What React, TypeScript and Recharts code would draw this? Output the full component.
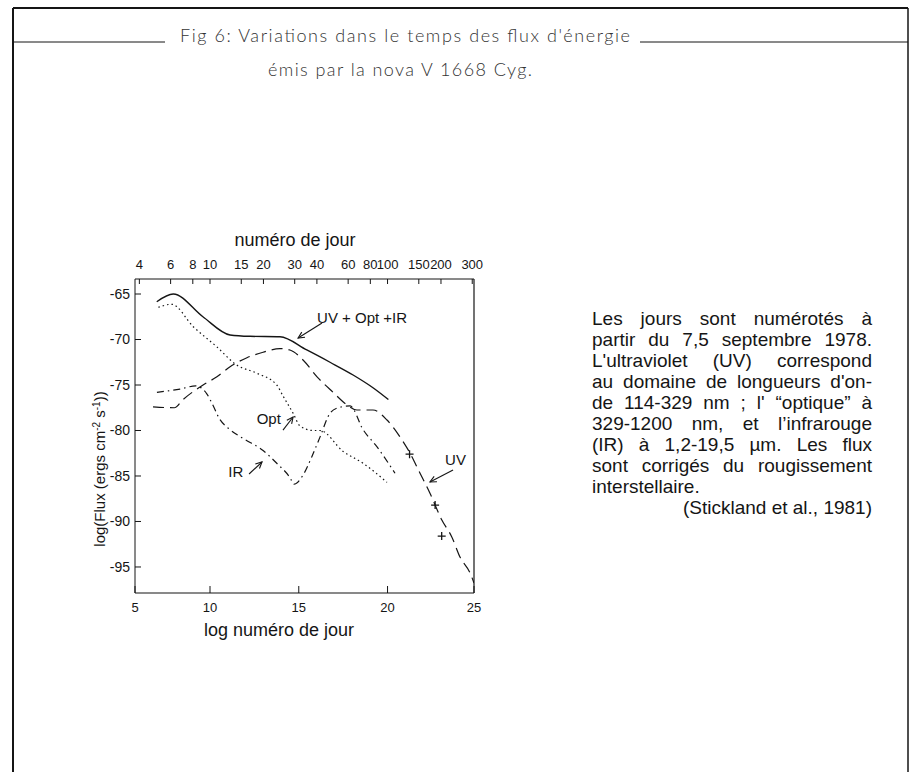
import React from "react";
import {
  ComposedChart,
  Line,
  Scatter,
  XAxis,
  YAxis,
  ReferenceLine,
  ReferenceDot,
  Label,
} from "recharts";

const FONT = '"Liberation Sans", Arial, Helvetica, sans-serif';
const INK = "#151515";

// x: log numéro de jour (10·log10 jour), y: log flux
const totalFlux = [
  { x: 7.0, y: -65.85 }, { x: 7.93, y: -65.0 }, { x: 9.6, y: -67.5 },
  { x: 11.13, y: -69.5 }, { x: 12.25, y: -69.65 }, { x: 13.94, y: -69.7 },
  { x: 15.45, y: -71.15 }, { x: 16.76, y: -72.5 }, { x: 18.06, y: -73.9 },
  { x: 19.18, y: -75.3 }, { x: 20.05, y: -76.6 },
];

const uvFlux = [
  { x: 6.79, y: -77.4 }, { x: 7.99, y: -77.5 }, { x: 8.48, y: -76.6 },
  { x: 9.61, y: -75.0 }, { x: 10.39, y: -74.1 }, { x: 11.13, y: -73.0 },
  { x: 12.08, y: -72.0 }, { x: 12.99, y: -71.4 }, { x: 13.94, y: -71.0 },
  { x: 14.5, y: -71.15 }, { x: 15.24, y: -72.25 }, { x: 16.03, y: -74.1 },
  { x: 16.93, y: -75.8 }, { x: 17.72, y: -77.2 }, { x: 18.28, y: -77.75 },
  { x: 19.18, y: -77.75 }, { x: 19.97, y: -78.85 }, { x: 20.7, y: -80.7 },
  { x: 21.27, y: -82.5 }, { x: 21.83, y: -84.7 }, { x: 22.39, y: -86.9 },
  { x: 23.05, y: -89.8 }, { x: 23.62, y: -91.7 }, { x: 24.08, y: -93.9 },
  { x: 24.65, y: -95.66 }, { x: 24.87, y: -96.76 },
];

const optFlux = [
  { x: 7.09, y: -66.46 }, { x: 7.84, y: -66.13 }, { x: 9.06, y: -68.6 },
  { x: 10.38, y: -70.8 }, { x: 11.5, y: -72.8 }, { x: 12.63, y: -73.7 },
  { x: 13.76, y: -75.0 }, { x: 14.11, y: -76.2 }, { x: 14.68, y: -78.1 },
  { x: 15.07, y: -79.5 }, { x: 15.8, y: -80.0 }, { x: 16.2, y: -80.0 },
  { x: 17.5, y: -82.3 }, { x: 18.62, y: -83.6 }, { x: 19.97, y: -85.7 },
];

const irFlux = [
  { x: 7.01, y: -75.8 }, { x: 8.31, y: -75.45 }, { x: 9.2, y: -75.1 },
  { x: 9.83, y: -76.0 }, { x: 10.11, y: -77.0 }, { x: 10.56, y: -78.8 },
  { x: 11.0, y: -79.7 }, { x: 11.8, y: -80.8 }, { x: 12.99, y: -82.2 },
  { x: 13.76, y: -83.6 }, { x: 14.51, y: -85.2 }, { x: 14.73, y: -85.9 },
  { x: 15.24, y: -84.9 }, { x: 15.73, y: -82.9 }, { x: 16.2, y: -80.7 },
  { x: 16.76, y: -78.1 }, { x: 17.21, y: -77.5 }, { x: 17.89, y: -77.3 },
  { x: 18.62, y: -79.9 }, { x: 19.41, y: -81.8 }, { x: 20.42, y: -84.7 },
];

const uvCrosses = [
  { x: 21.24, y: -82.6 }, { x: 22.68, y: -88.2 }, { x: 23.05, y: -91.6 },
];

const xDomain = [5.775, 24.87];
const yDomain = [-97.86, -63.35];
const yTicks = [-65, -70, -75, -80, -85, -90, -95];
const bottomTicks = [5.775, 10, 15, 20, 24.87];
const bottomTickLabels = ["5", "10", "15", "20", "25"];
const topTickDays = [4, 6, 8, 10, 15, 20, 30, 40, 60, 80, 100, 150, 200, 300];
const topTicks = topTickDays.map((d) => 10 * Math.log10(d));

const annotations = [
  { text: "UV + Opt +IR", tx: 16.03, ty: -67.64, from: [16.31, -68.19], to: [14.96, -69.84] },
  { text: "Opt", tx: 12.63, ty: -78.74, from: [14.11, -79.95], to: [14.68, -78.52] },
  { text: "IR", tx: 11.03, ty: -84.53, from: [12.2, -84.78], to: [12.93, -83.46] },
  { text: "UV", tx: 23.24, ty: -83.24, from: [23.69, -84.34], to: [22.39, -85.66] },
];

const noteLines = [
  "Les jours sont numérotés à",
  "partir du 7,5 septembre 1978.",
  "L'ultraviolet (UV) correspond",
  "au domaine de longueurs d'on-",
  "de 114-329 nm ; l' “optique” à",
  "329-1200 nm, et l’infrarouge",
  "(IR) à 1,2-19,5 µm. Les flux",
  "sont corrigés du rougissement",
];

const Arrow = (p: any) => {
  const { x1, y1, x2, y2 } = p;
  const a = Math.atan2(y2 - y1, x2 - x1);
  const h = 7;
  const w = 0.45;
  const ax = x2 - h * Math.cos(a - w);
  const ay = y2 - h * Math.sin(a - w);
  const bx = x2 - h * Math.cos(a + w);
  const by = y2 - h * Math.sin(a + w);
  return (
    <g stroke={INK} strokeWidth={1.1} fill="none">
      <line x1={x1} y1={y1} x2={x2} y2={y2} />
      <path d={`M${ax},${ay} L${x2},${y2} L${bx},${by}`} />
    </g>
  );
};

const PlusShape = (p: any) => (
  <path
    d={`M${p.cx - 4},${p.cy} h8 M${p.cx},${p.cy - 4} v8`}
    stroke={INK}
    strokeWidth={1.3}
  />
);

const noteText = (text: string) => (p: any) => (
  <text x={p.cx} y={p.cy} dy="0.35em" fontSize={15} fontFamily={FONT} fill={INK}>
    {text}
  </text>
);

const TopTitle = () => (
  <text x={295} y={246} textAnchor="middle" fontSize={18} fontFamily={FONT} fill={INK}>
    numéro de jour
  </text>
);

const BottomTitle = () => (
  <text x={279} y={636} textAnchor="middle" fontSize={18} fontFamily={FONT} fill={INK}>
    log numéro de jour
  </text>
);

const YTitle = () => (
  <text
    transform="translate(100,469) rotate(-90)"
    textAnchor="middle"
    dy="0.35em"
    fontSize={15}
    fontFamily={FONT}
    fill={INK}
  >
    log(Flux (ergs cm<tspan dy={-5} fontSize={10}>-2</tspan>
    <tspan dy={5}> s</tspan>
    <tspan dy={-5} fontSize={10}>-1</tspan>
    <tspan dy={5}>))</tspan>
  </text>
);

const tickStyle = { fontSize: 13, fontFamily: FONT, fill: INK };
const titleFont = 'Lato, "Open Sans", sans-serif';

export default function App() {
  return (
    <div style={{ position: "absolute", left: 0, top: 0, width: 917, height: 772, background: "#fff" }}>
      <ComposedChart
        width={917}
        height={772}
        margin={{ top: 249, right: 442, bottom: 149, left: 85 }}
      >
        <XAxis
          xAxisId="bottom"
          type="number"
          dataKey="x"
          domain={xDomain}
          ticks={bottomTicks}
          interval={0}
          allowDataOverflow
          height={30}
          tickSize={-7}
          tickMargin={17}
          tickFormatter={(v: number, i: number) => bottomTickLabels[i]}
          tick={tickStyle}
          axisLine={{ stroke: INK, strokeWidth: 1.2 }}
          tickLine={{ stroke: INK }}
        >
          <Label content={BottomTitle} />
        </XAxis>
        <XAxis
          xAxisId="top"
          orientation="top"
          type="number"
          dataKey="x"
          domain={xDomain}
          ticks={topTicks}
          interval={0}
          allowDataOverflow
          height={30}
          tickSize={-5}
          tickMargin={15}
          tickFormatter={(v: number, i: number) => String(topTickDays[i])}
          tick={tickStyle}
          axisLine={{ stroke: INK, strokeWidth: 1 }}
          tickLine={{ stroke: INK }}
        >
          <Label content={TopTitle} />
        </XAxis>
        <YAxis
          yAxisId="left"
          type="number"
          domain={yDomain}
          ticks={yTicks}
          interval={0}
          allowDataOverflow
          width={50}
          tickSize={-6}
          tickMargin={11}
          tick={{ ...tickStyle, fontSize: 14 }}
          axisLine={{ stroke: INK, strokeWidth: 1 }}
          tickLine={{ stroke: INK }}
        >
          <Label content={YTitle} />
        </YAxis>
        <YAxis
          yAxisId="right"
          orientation="right"
          type="number"
          domain={yDomain}
          allowDataOverflow
          width={1}
          tick={false}
          tickLine={false}
          axisLine={{ stroke: INK, strokeWidth: 1.2 }}
        />

        <Line
          xAxisId="bottom"
          yAxisId="left"
          data={totalFlux}
          dataKey="y"
          type="monotone"
          stroke={INK}
          strokeWidth={1.4}
          dot={false}
          isAnimationActive={false}
        />
        <Line
          xAxisId="bottom"
          yAxisId="left"
          data={uvFlux}
          dataKey="y"
          type="monotone"
          stroke={INK}
          strokeWidth={1.2}
          strokeDasharray="11 6"
          dot={false}
          isAnimationActive={false}
        />
        <Line
          xAxisId="bottom"
          yAxisId="left"
          data={optFlux}
          dataKey="y"
          type="monotone"
          stroke={INK}
          strokeWidth={1.2}
          strokeDasharray="1.5 3"
          dot={false}
          isAnimationActive={false}
        />
        <Line
          xAxisId="bottom"
          yAxisId="left"
          data={irFlux}
          dataKey="y"
          type="monotone"
          stroke={INK}
          strokeWidth={1.2}
          strokeDasharray="7 4 1.5 4"
          dot={false}
          isAnimationActive={false}
        />
        <Scatter
          xAxisId="bottom"
          yAxisId="left"
          data={uvCrosses}
          dataKey="y"
          shape={PlusShape}
          isAnimationActive={false}
        />

        {annotations.map((a) => (
          <ReferenceLine
            key={"arrow-" + a.text}
            xAxisId="bottom"
            yAxisId="left"
            segment={[
              { x: a.from[0], y: a.from[1] },
              { x: a.to[0], y: a.to[1] },
            ]}
            shape={Arrow}
          />
        ))}
        {annotations.map((a) => (
          <ReferenceDot
            key={"text-" + a.text}
            xAxisId="bottom"
            yAxisId="left"
            x={a.tx}
            y={a.ty}
            r={0}
            shape={noteText(a.text)}
          />
        ))}
      </ComposedChart>

      <svg
        width={917}
        height={772}
        style={{ position: "absolute", left: 0, top: 0, pointerEvents: "none" }}
      >
        <g stroke={INK} fill="none">
          <line x1={13} y1={8} x2={908} y2={8} strokeWidth={2} />
          <line x1={13} y1={8} x2={13} y2={772} strokeWidth={2} />
          <line x1={908} y1={8} x2={908} y2={772} strokeWidth={1.5} />
          <line x1={13} y1={42} x2={165} y2={42} strokeWidth={1} />
          <line x1={640} y1={42} x2={908} y2={42} strokeWidth={1} />
        </g>
        <text
          x={180}
          y={42}
          textLength={450}
          lengthAdjust="spacing"
          fontSize={18}
          fontWeight={300}
          fontFamily={titleFont}
          fill="#333"
        >
          Fig 6: Variations dans le temps des flux d'énergie
        </text>
        <text
          x={268}
          y={76}
          textLength={264}
          lengthAdjust="spacing"
          fontSize={18}
          fontWeight={300}
          fontFamily={titleFont}
          fill="#333"
        >
          émis par la nova V 1668 Cyg.
        </text>
      </svg>

      <div
        style={{
          position: "absolute",
          left: 592,
          top: 308,
          width: 280,
          fontFamily: FONT,
          fontSize: 19,
          lineHeight: "21px",
          color: INK,
        }}
      >
        {noteLines.map((l) => (
          <div key={l} style={{ textAlign: "justify", textAlignLast: "justify" }}>
            {l}
          </div>
        ))}
        <div>interstellaire.</div>
        <div style={{ textAlign: "right" }}>(Stickland et al., 1981)</div>
      </div>
    </div>
  );
}
